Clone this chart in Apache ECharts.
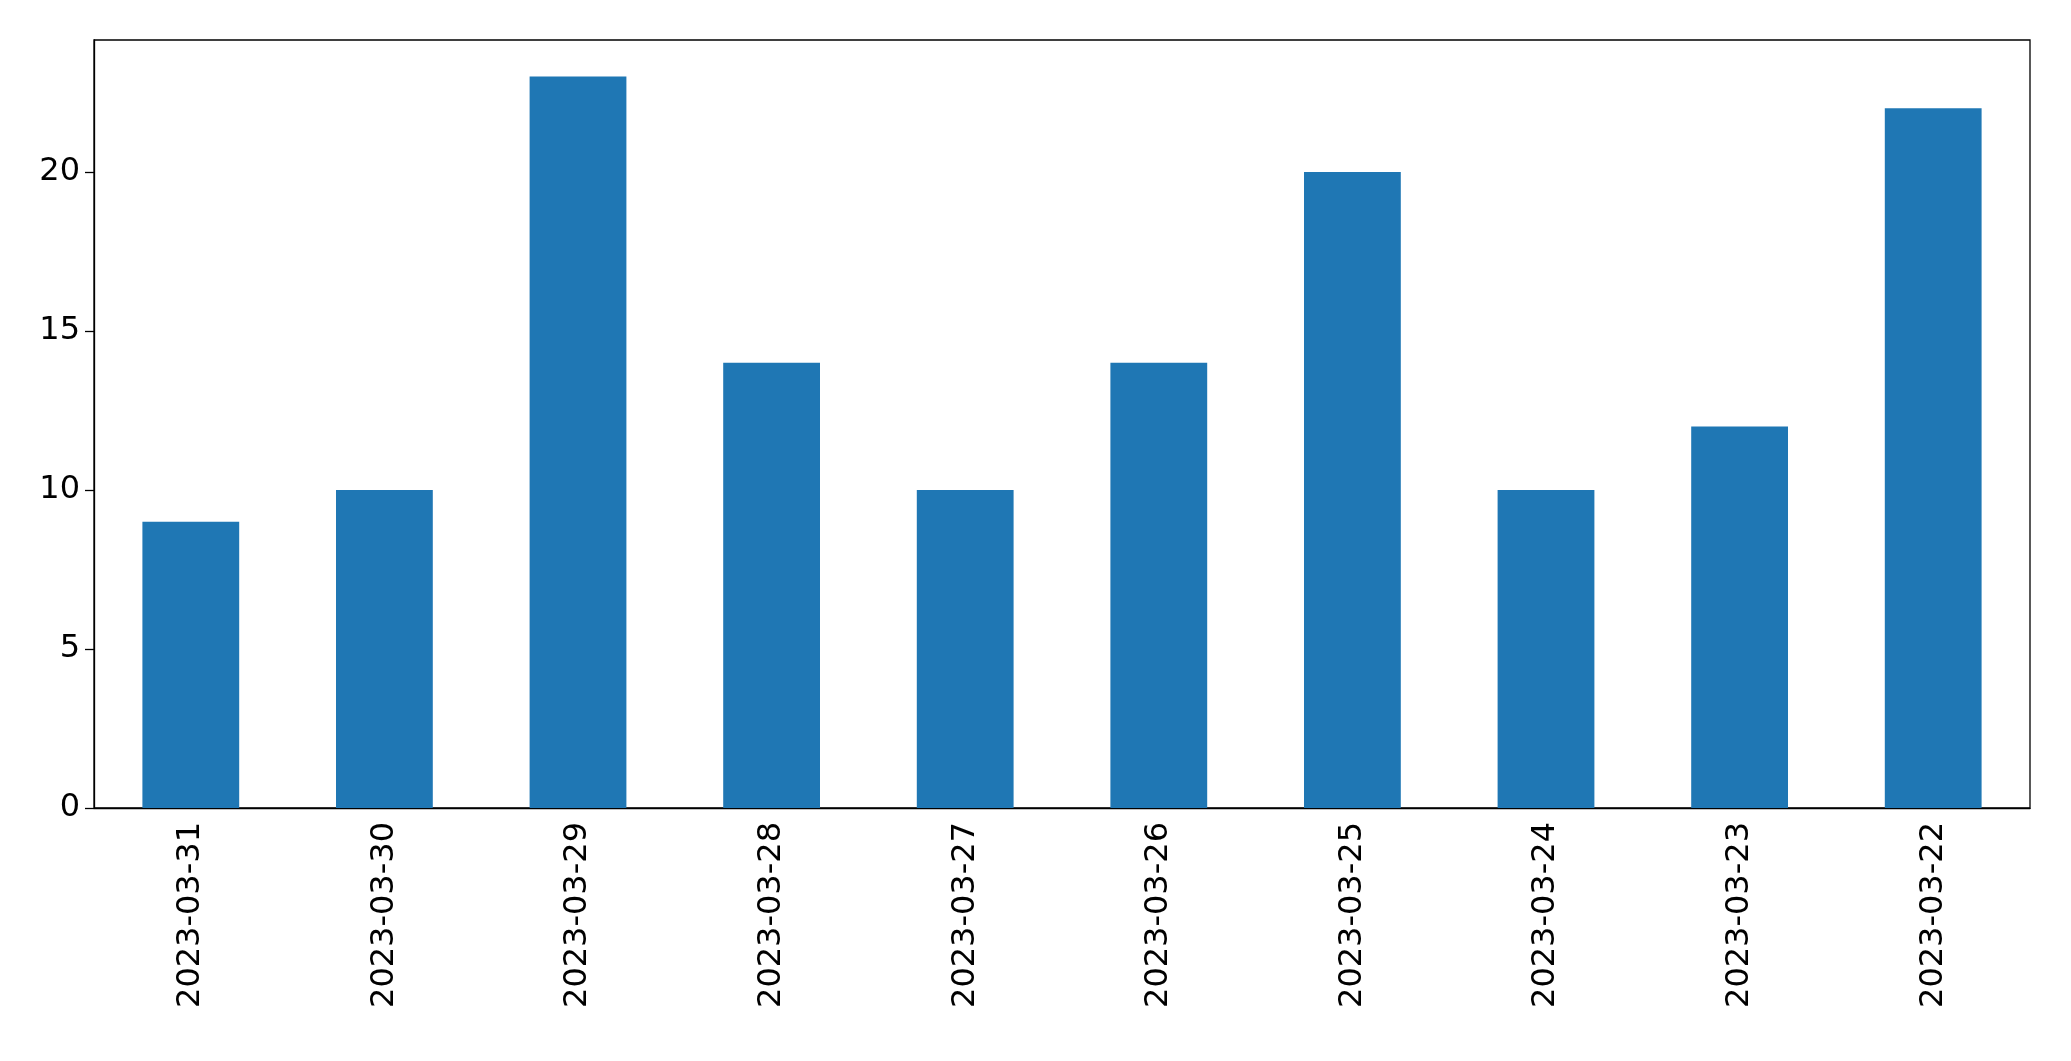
<!DOCTYPE html>
<html>
<head>
<meta charset="utf-8">
<script src="https://cdn.jsdelivr.net/npm/echarts@6/dist/echarts.min.js"></script>
<style>html,body{margin:0;padding:0;background:#fff}#chart{width:2071px;height:1061px}</style>
</head>
<body>
<div id="chart"></div>
<script>
var categories = ['2023-03-31','2023-03-30','2023-03-29','2023-03-28','2023-03-27','2023-03-26','2023-03-25','2023-03-24','2023-03-23','2023-03-22'];
var values = [9, 10, 23, 14, 10, 14, 20, 10, 12, 22];
var yMax = 24.15;

var chart = echarts.init(document.getElementById('chart'));
chart.setOption({
  animation: false,
  grid: {
    left: 94, right: 41, top: 40, bottom: 253,
    show: true, borderColor: '#000', borderWidth: 1.3
  },
  xAxis: {
    type: 'category',
    data: categories,
    axisLine: {lineStyle: {color: '#000', width: 1.3}},
    axisTick: {alignWithLabel: true, length: 9, lineStyle: {color: '#000', width: 1.3}},
    axisLabel: {rotate: 90, color: '#000', fontSize: 32, fontFamily: 'DejaVu Sans', margin: 14}
  },
  yAxis: {
    type: 'value',
    min: 0, max: yMax, interval: 5,
    splitLine: {show: false},
    axisLine: {show: true, lineStyle: {color: '#000', width: 1.3}},
    axisTick: {show: true, length: 9, lineStyle: {color: '#000', width: 1.3}},
    axisLabel: {color: '#000', fontSize: 32, fontFamily: 'DejaVu Sans', margin: 14, showMaxLabel: false}
  },
  series: [{
    type: 'bar',
    data: values,
    barWidth: '50%',
    itemStyle: {color: '#1f77b4'}
  }]
});
</script>
</body>
</html>
